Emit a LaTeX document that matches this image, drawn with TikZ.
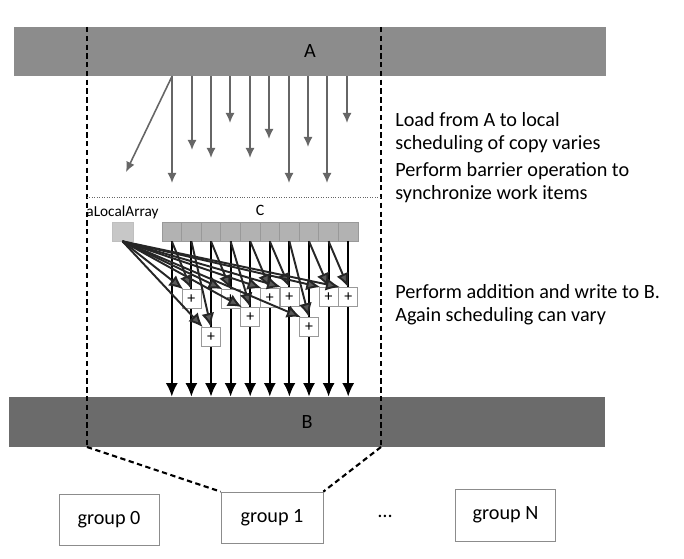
\documentclass[tikz,border=0pt]{standalone}
\usepackage{fontspec}
\setmainfont{Carlito}
\usetikzlibrary{arrows.meta}

\begin{document}
\begin{tikzpicture}[
  bar/.style={minimum height=0.98cm, inner sep=0pt, font=\fontsize{11.5}{13}\selectfont},
  groupbox/.style={draw=black!45, minimum width=2cm, minimum height=1.02cm, font=\fontsize{11.5}{13}\selectfont},
  note/.style={anchor=west, align=left, inner sep=0pt, font=\fontsize{11.5}{13.2}\selectfont},
  cellbox/.style={draw=black!40, fill=black!30, minimum width=0.392cm, minimum height=0.38cm, inner sep=0pt},
  plusbox/.style={draw=black!40, fill=white, minimum size=0.38cm, inner sep=0pt, font=\fontsize{9}{10}\selectfont},
  load/.style={-{Latex[length=2mm, width=1.8mm]}, color=black!60, line width=0.9pt},
  feed/.style={-{Latex[length=2.8mm, width=2.6mm, fill=black!65]}, color=black!85, line width=1.1pt},
  store/.style={-{Latex[length=2.7mm, width=2.4mm]}, color=black, line width=1.1pt},
  border/.style={densely dashed, line width=0.6pt},
]
\useasboundingbox (0,0) rectangle (13.68,11.18);

\node[bar, fill=black!45, minimum width=11.84cm] (barA) at (6.20,10.15) {A};
\node[bar, fill=black!58, minimum width=11.92cm, minimum height=1cm] (barB) at (6.14,2.74) {B};

% work group borders
\coordinate (tl) at (1.74,10.64);
\coordinate (bl) at (1.74,2.24);
\coordinate (tr) at (7.62,10.64);
\coordinate (br) at (7.62,2.24);
\coordinate (ml) at (1.74,7.24);
\coordinate (mr) at (7.62,7.24);
\draw[border] (tl) -- (bl);
\draw[border] (tr) -- (br);
\draw[densely dotted, color=black!60, line width=0.4pt] (ml) -- (mr);

% load from A
\foreach \i/\x/\y in {2/3.44/7.52, 3/3.84/8.18, 4/4.22/8.02, 5/4.60/8.72, 6/5.00/8.02, 7/5.38/8.40, 8/5.78/7.52, 9/6.16/8.24, 10/6.54/7.52, 11/6.94/8.72}{
  \coordinate (l\i) at (\x,\y);
  \draw[load] (barA.south -| l\i) -- (l\i);
}
\coordinate (l1) at (2.52,7.74);
\draw[load] (barA.south -| l2) -- (l1);

% local arrays
\node (loclabel) at (2.45,6.94) {\fontsize{8.7}{10}\selectfont aLocalArray};
\node[draw=black!25, fill=black!22, minimum width=0.42cm, minimum height=0.38cm, inner sep=0pt] (loc) at (2.45,6.55) {};
\node (Clabel) at (5.20,6.98) {\fontsize{9}{10}\selectfont C};
\foreach \i in {1,...,10}
  \node[cellbox] (c\i) at ({3.24+0.392*(\i-0.5)},6.55) {};

% write to B
\foreach \i in {1,...,10}
  \draw[store] (c\i.south) -- (c\i.south |- barB.north);

% additions
\foreach \i/\y in {1/5.20, 2/4.44, 3/5.20, 4/4.84, 5/5.22, 6/5.24, 7/4.64, 8/5.24, 9/5.24}
  \node[plusbox] (p\i) at ({3.24+0.392*(\i+0.5)},\y) {+};
\foreach \i in {1,...,9}{
  \draw[feed] (c\i.south) -- (p\i.north);
  \draw[feed] (loc.south) -- (p\i.130);
}

\node[note] (loadnote) at (7.90,8.53) {Load from A to local\\scheduling of copy varies};
\node[note] (barriernote) at (7.90,7.53) {Perform barrier operation to\\synchronize work items};
\node[note] (addnote) at (7.90,5.08) {Perform addition and write to B.\\Again scheduling can vary};

% groups
\node[groupbox] (g0) at (2.18,0.79) {group 0};
\node[groupbox, minimum width=2.04cm] (g1) at (5.44,0.83) {group 1};
\node[groupbox, minimum height=1.04cm] (gN) at (10.11,0.88) {group N};
\node (dots) at (7.70,0.86) {\fontsize{11.5}{13}\selectfont\ldots};
\draw[border, line width=1.2pt] (bl) -- (g1.north west);
\draw[border, line width=1.2pt] (br) -- (g1.north east);
\end{tikzpicture}
\end{document}
